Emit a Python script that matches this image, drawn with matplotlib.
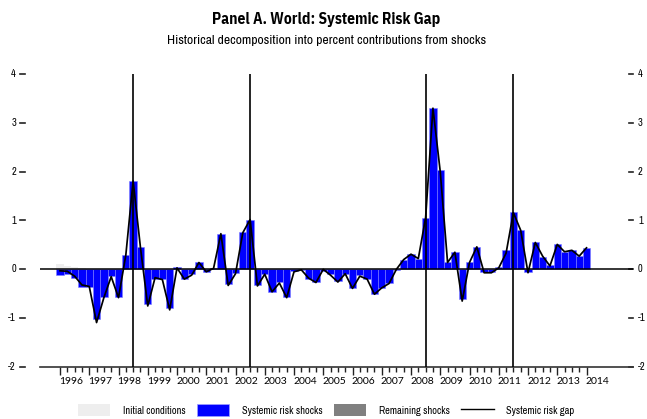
""" Historical decomposition chart: world systemic risk gap """

import numpy as np
import pandas as pd
import matplotlib
matplotlib.use('Agg')
import matplotlib.pyplot as plt
from matplotlib.patches import Patch
from matplotlib.lines import Line2D

# Quarterly sample 1996Q1 - 2014Q1
quarters = pd.period_range('1996Q1', '2014Q1', freq='Q')

# Contribution of systemic risk shocks (percent)
systemic_shocks = [-0.12, -0.10, -0.18, -0.36, -0.36, -1.02, -0.56, -0.14, -0.57, 0.29,
                   1.81, 0.46, -0.72, -0.19, -0.20, -0.80, 0.05, -0.19, -0.10, 0.16,
                   -0.05, 0.03, 0.73, -0.31, -0.08, 0.77, 1.02, -0.32, -0.10, -0.46,
                   -0.26, -0.56, -0.03, -0.01, -0.20, -0.26, -0.03, -0.10, -0.24, -0.10,
                   -0.39, -0.12, -0.20, -0.51, -0.38, -0.29, -0.01, 0.20, 0.31, 0.22,
                   1.06, 3.30, 2.03, 0.15, 0.36, -0.60, 0.15, 0.46, -0.05, -0.05,
                   0.05, 0.39, 1.17, 0.80, -0.05, 0.55, 0.25, 0.08, 0.51, 0.36,
                   0.39, 0.27, 0.44]

# Initial conditions (only matter at the start of the sample)
initial_conditions = [0.10, 0.07, 0.04, 0.02] + [0.0] * (len(quarters) - 4)

# Remaining shocks (negligible)
remaining_shocks = [0.0] * len(quarters)

# Systemic risk gap (line)
risk_gap = [-0.03, -0.04, -0.14, -0.32, -0.35, -1.09, -0.58, -0.15, -0.58, 0.29,
            1.81, 0.45, -0.75, -0.17, -0.21, -0.83, 0.03, -0.20, -0.12, 0.14,
            -0.05, 0.02, 0.73, -0.33, -0.09, 0.75, 1.02, -0.34, -0.10, -0.46,
            -0.28, -0.58, -0.05, -0.01, -0.18, -0.27, 0.00, -0.12, -0.26, -0.09,
            -0.39, -0.14, -0.20, -0.51, -0.38, -0.29, 0.00, 0.20, 0.31, 0.22,
            1.06, 3.30, 2.00, 0.14, 0.35, -0.65, 0.14, 0.46, -0.07, -0.07,
            0.03, 0.33, 1.16, 0.80, -0.07, 0.55, 0.27, 0.07, 0.51, 0.36,
            0.39, 0.27, 0.44]

# Crisis markers
event_quarters = ['1998Q3', '2002Q3', '2008Q3', '2011Q3']

years = list(range(1996, 2015))
yticks = [-2, -1, 0, 1, 2, 3, 4]

narrow = ['Archivo Narrow', 'DejaVu Sans']
narrow_bold = ['IBM Plex Sans Condensed', 'Fira Sans Condensed', 'DejaVu Sans']
plain = ['Lato', 'DejaVu Sans']

def qpos(p):
    p = pd.Period(p, freq='Q')
    return p.year + (p.quarter - 1) / 4.0

x = np.array([qpos(q) for q in quarters])

fig = plt.figure(figsize=(6.47, 4.19), dpi=100)
W, H = 647.0, 419.0
AX_L, AX_R = 40.0, 633.0
ax = fig.add_axes([AX_L / W, (H - 367) / H, (AX_R - AX_L) / W, (367 - 74) / H])
aw = AX_R - AX_L

width = 0.25
ax.bar(x, initial_conditions, width, color='#eeeeee', edgecolor='none', zorder=2)
ax.bar(x, systemic_shocks, width, color='#0000ff', edgecolor='#7f7fff', linewidth=0.4, zorder=2)
ax.bar(x, remaining_shocks, width, color='#808080', edgecolor='none', zorder=2)
ax.plot(x, risk_gap, color='black', linewidth=1.25, zorder=4)

ax.axhline(0, color='black', linewidth=1.1, zorder=3)
for ev in event_quarters:
    ax.axvline(qpos(ev), color='black', linewidth=1.2, zorder=3)

x0 = 1996 - 20 / 29.25
x1 = 1996 + (AX_R - 60) / 29.25
ax.set_xlim(x0, x1)
ax.set_ylim(-2, 4)

# x axis: year ticks, quarter minor ticks, labels in the middle of each year
ax.set_xticks(years)
ax.set_xticks([y + q / 4.0 for y in years[:-1] for q in (1, 2, 3)], minor=True)
ax.set_xticklabels([])
ax.tick_params(axis='x', which='major', length=6, width=1, color='#222222')
ax.tick_params(axis='x', which='minor', length=3.5, width=1, color='#222222')
for yr in years:
    ax.text(yr + 0.375, -0.035, str(yr), transform=ax.get_xaxis_transform(),
            ha='center', va='top', fontsize=7.5, family=plain)

# y axis labels on both sides, drawn by hand (left dashes sit away from the plot)
ax.set_yticks([])
ytr = ax.get_yaxis_transform()
for t in yticks:
    ax.plot([(20 - AX_L) / aw, (25 - AX_L) / aw], [t, t], transform=ytr, color='#222222',
            linewidth=1.2, clip_on=False)
    ax.plot([(628.5 - AX_L) / aw, (633 - AX_L) / aw], [t, t], transform=ytr, color='#222222',
            linewidth=1.2, clip_on=False)
    ax.text((16 - AX_L) / aw, t, str(t), transform=ytr, ha='right', va='center',
            fontsize=7.5, family=narrow)
    ax.text((638 - AX_L) / aw, t, str(t), transform=ytr, ha='left', va='center',
            fontsize=7.5, family=narrow)

ax.spines['left'].set_visible(False)
ax.spines['right'].set_visible(False)
ax.spines['top'].set_visible(False)
ax.spines['bottom'].set_color('#333333')
ax.spines['bottom'].set_linewidth(1.2)

fig.text(0.504, 1 - 19.5 / H, 'Panel A. World: Systemic Risk Gap', ha='center', va='center',
         fontsize=11.2, fontweight='bold', family=narrow_bold)
fig.text(0.504, 1 - 41 / H, 'Historical decomposition into percent contributions from shocks',
         ha='center', va='center', fontsize=9.8, family=narrow)

handles = [Patch(facecolor='#eeeeee', edgecolor='none'),
           Patch(facecolor='#0000ff', edgecolor='#9f9fff', linewidth=0.5),
           Patch(facecolor='#808080', edgecolor='none'),
           Line2D([], [], color='black', linewidth=1.0)]
labels = ['Initial conditions', 'Systemic risk shocks', 'Remaining shocks', 'Systemic risk gap']
fig.legend(handles, labels, loc='center', bbox_to_anchor=(0.504, 1 - 410 / H), ncol=4,
           frameon=False, prop={'family': narrow, 'size': 7.5},
           handlelength=3.1, handleheight=1.25, handletextpad=1.2, columnspacing=1.1)

fig.savefig('out.png', dpi=100)
